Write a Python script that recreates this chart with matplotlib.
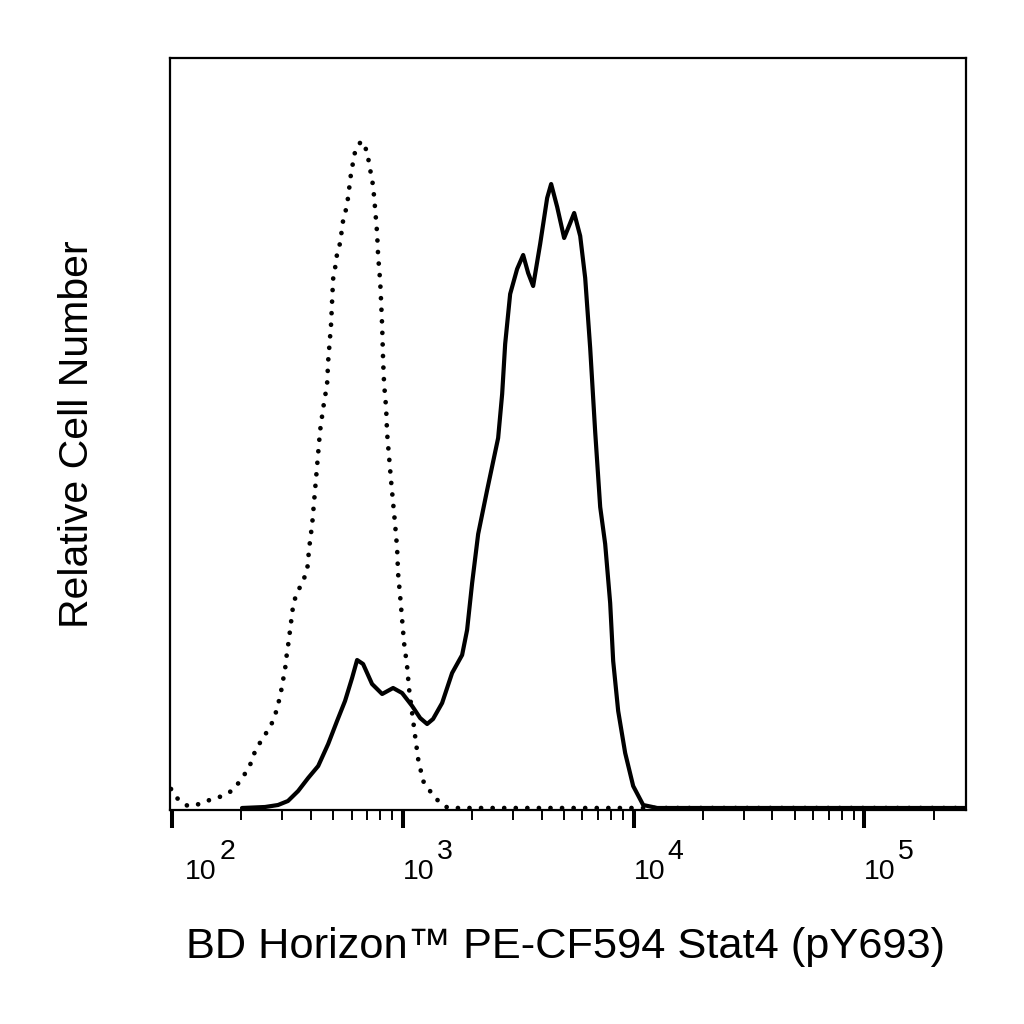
import matplotlib
matplotlib.use("Agg")
import matplotlib.pyplot as plt
from matplotlib.ticker import LogLocator, NullFormatter
from matplotlib.transforms import blended_transform_factory, offset_copy

plt.rcParams['font.family'] = ['Liberation Sans', 'DejaVu Sans']

# isotype control (dotted) - fluorescence vs relative count
iso_x = [99, 106, 117, 132, 149, 166, 184, 197, 211, 222, 229, 246, 261, 274,
         285, 294, 300, 306, 312, 315, 322, 325, 331, 335, 348, 366, 385, 393,
         405, 438, 452, 470, 475, 480, 489, 494, 499, 509, 519, 535, 551, 568,
         579, 597, 622, 660, 700, 715, 744, 759, 774, 782, 798, 806, 814, 822,
         830, 847, 855, 890, 926, 945, 954, 974, 993, 1013, 1044, 1065, 1098,
         1131, 1166, 1225, 1340, 1452, 1573, 276000]
iso_y = [19, 9, 2, 4, 9, 12, 18, 27, 37, 47, 57, 69, 78, 87,
         99, 112, 122, 134, 145, 157, 169, 180, 192, 204, 215, 225, 237, 260,
         284, 377, 400, 424, 447, 460, 484, 507, 529, 540, 554, 565, 587, 599,
         610, 635, 657, 667, 657, 644, 622, 599, 575, 552, 527, 505, 482, 447,
         424, 400, 375, 327, 284, 260, 235, 212, 189, 165, 142, 119, 95,
         72, 49, 27, 14, 5, 0, 0]

# stimulated cells (solid)
stim_x = [201, 253, 288, 318, 352, 389, 430, 475, 519, 562, 603, 634, 673,
          736, 814, 908, 993, 1098, 1189, 1275, 1353, 1481, 1636, 1808, 1900,
          1998, 2122, 2321, 2590, 2696, 2778, 2920, 3130, 3325, 3494, 3673,
          3939, 4224, 4396, 4669, 5004, 5316, 5531, 5874, 6174, 6489, 6822,
          7171, 7537, 7922, 8163, 8581, 9201, 9966, 11013, 12668, 276000]
stim_y = [0, 1, 3, 7, 17, 30, 42, 64, 87, 107, 130, 148, 144,
          124, 114, 120, 115, 102, 90, 84, 89, 105, 135, 153, 178,
          225, 274, 318, 370, 414, 464, 514, 539, 553, 535, 522,
          564, 610, 624, 601, 570, 585, 595, 572, 530, 460, 376,
          301, 264, 205, 147, 97, 55, 22, 3, 0, 0]

decades = [1e2, 1e3, 1e4, 1e5]
exponents = ['2', '3', '4', '5']
label_x = [114, 1e3, 1e4, 1e5]

fig = plt.figure(figsize=(10.24, 10.24), dpi=100)
ax = fig.add_axes([170 / 1024, 214 / 1024, 796 / 1024, 752 / 1024])

ax.plot(iso_x, iso_y, color='black', lw=3.4, linestyle=(0, (0.01, 2.44)),
        dash_capstyle='round', solid_joinstyle='round')
ax.plot(stim_x, stim_y, color='black', lw=3.0, solid_joinstyle='round',
        solid_capstyle='round')

ax.set_xscale('log')
ax.set_xlim(98, 276000)
ax.set_ylim(-2, 750)

ax.xaxis.set_minor_locator(LogLocator(base=10, subs=range(2, 10)))
ax.xaxis.set_minor_formatter(NullFormatter())
ax.set_xticks(decades)
ax.set_xticklabels([])
ax.tick_params(axis='x', which='major', direction='out', length=13, width=2.9)
ax.tick_params(axis='x', which='minor', direction='out', length=7.2, width=1.4)
ax.set_yticks([])
for sp in ax.spines.values():
    sp.set_linewidth(1.6)

# tick labels: "10" with full-size raised exponent
trans = blended_transform_factory(ax.transData, fig.transFigure)
exp_trans = offset_copy(trans, fig=fig, x=34, y=20, units='dots')
base_y = 1 - 879 / 1024
for lx, e in zip(label_x, exponents):
    ax.text(lx, base_y, '10', transform=trans, ha='left', va='baseline',
            fontsize=20.5)
    ax.text(lx, base_y, e, transform=exp_trans, ha='left', va='baseline',
            fontsize=20.5)

ax.set_xlabel('BD Horizon\u2122 PE-CF594 Stat4 (pY693)', fontsize=31.2,
              va='baseline')
ax.xaxis.set_label_coords(0.497, (810 - 958) / 752)
ax.set_ylabel('Relative Cell Number', fontsize=29.5)
ax.yaxis.set_label_coords((96 - 170) / 796, 0.5)

fig.savefig('out.png', dpi=100, facecolor='white')
